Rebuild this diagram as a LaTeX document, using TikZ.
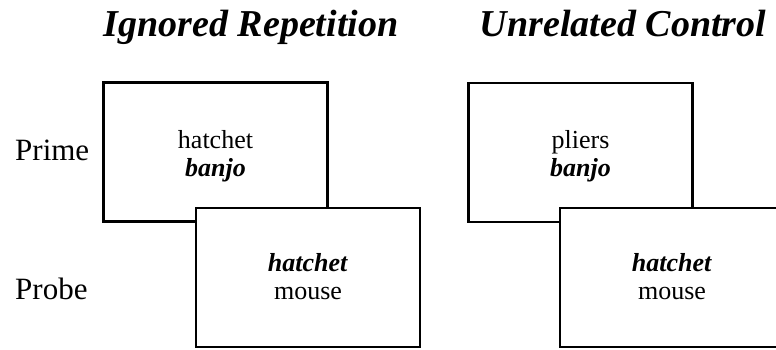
\documentclass[tikz,border=0pt]{standalone}
\usepackage{fontspec}
\setmainfont{Liberation Serif}
\begin{document}
\begin{tikzpicture}[x=1pt,y=-1pt,
  card/.style={draw=black,line width=2.4pt,fill=white,minimum width=224pt,
    minimum height=139pt,inner sep=0pt},
  word/.style={anchor=base,inner sep=0pt,font=\fontsize{26}{28}\selectfont},
  heading/.style={anchor=base,font=\fontsize{38}{40}\selectfont\bfseries\itshape},
  rowlabel/.style={anchor=base west,inner sep=0pt,font=\fontsize{31}{33}\selectfont}]
  \useasboundingbox (0,0) rectangle (776,349);
  \clip (0,0) rectangle (776,349);
  % column headings
  \node[heading] (h1) at (251,36) {Ignored Repetition};
  \node[heading] (h2) at (623,36) {Unrelated Control};
  % row labels
  \node[rowlabel] (prime) at (15,160) {Prime};
  \node[rowlabel] (probe) at (15,299) {Probe};
  % ignored repetition: prime display, then probe display on top
  \node[card] (p1) at (215.5,152) {};
  \node[word] (p1a) at (p1.center |- 0,148) {hatchet};
  \node[word] (p1b) at (p1.center |- 0,176) {\textbf{\textit{banjo}}};
  \node[card] (q1) at (308,277.5) {};
  \node[word] (q1a) at (q1.center |- 0,271) {\textbf{\textit{hatchet}}};
  \node[word] (q1b) at (q1.center |- 0,299) {mouse};
  % unrelated control: prime display, then probe display on top
  \node[card] (p2) at (580.5,152.5) {};
  \node[word] (p2a) at (p2.center |- 0,148) {pliers};
  \node[word] (p2b) at (p2.center |- 0,176) {\textbf{\textit{banjo}}};
  \node[card] (q2) at (672,277.5) {};
  \node[word] (q2a) at (q2.center |- 0,271) {\textbf{\textit{hatchet}}};
  \node[word] (q2b) at (q2.center |- 0,299) {mouse};
\end{tikzpicture}
\end{document}
